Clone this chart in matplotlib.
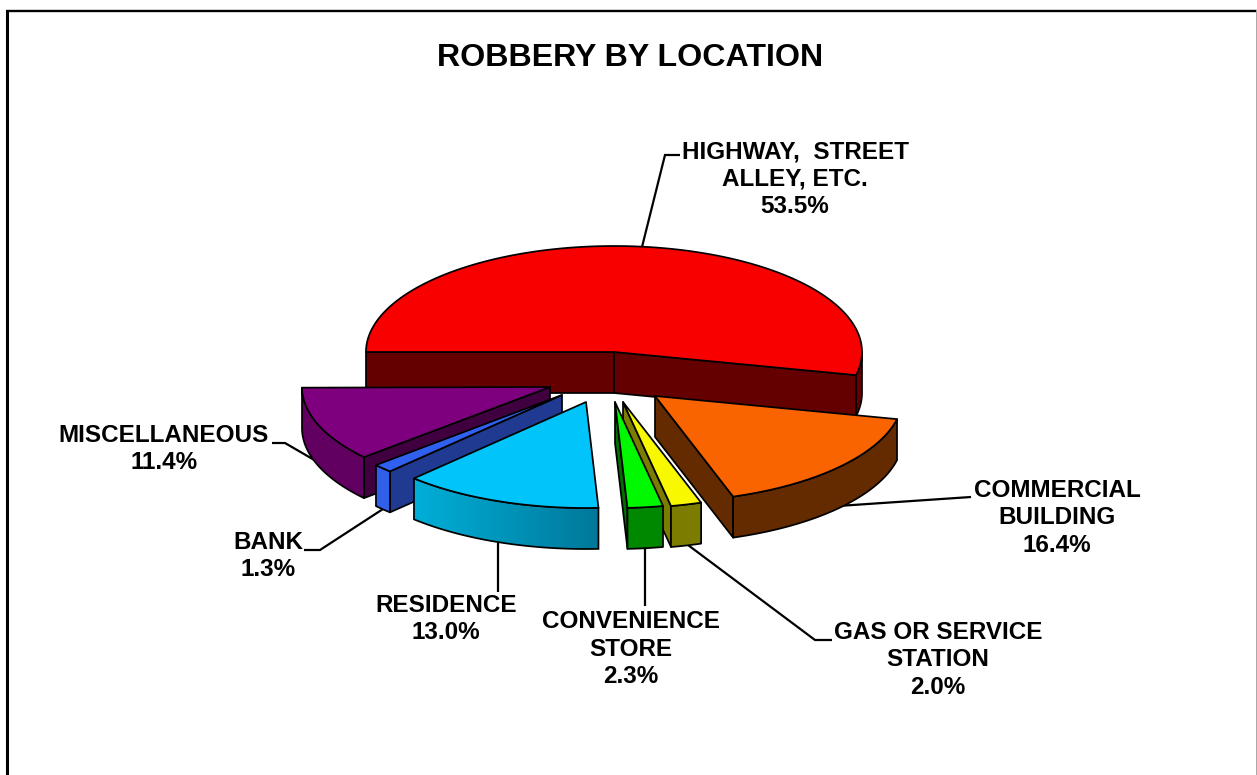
import numpy as np
import matplotlib
matplotlib.use("Agg")
import matplotlib.pyplot as plt
from matplotlib.patches import Polygon
from matplotlib.colors import LinearSegmentedColormap

# ---- data ----
categories = ["HIGHWAY,  STREET\nALLEY, ETC.", "COMMERCIAL\nBUILDING", "GAS OR SERVICE\nSTATION",
              "CONVENIENCE\nSTORE", "RESIDENCE", "BANK", "MISCELLANEOUS"]
values = [53.5, 16.4, 2.0, 2.3, 13.0, 1.3, 11.4]
title = "ROBBERY BY LOCATION"

# ---- style / layout ----
top_colors = ["#F80000", "#F96400", "#F8F800", "#00F800", "#00C4FA", "#3060F0", "#7F007F"]
wall_left = ["#660000", "#642A00", "#7C7C00", "#008800", "#00AFD8", "#3060E8", "#620062"]
wall_right = ["#660000", "#642A00", "#7C7C00", "#008800", "#00789A", "#3060E8", "#620062"]
cut_colors = ["#640000", "#642A00", "#7C7C00", "#006E00", "#007A96", "#1F3A90", "#400040"]
apex_x = [614, 655, 623, 615, 586, 562, 550]
apex_y = [352, 396, 402, 402, 402, 395, 387]
draw_order = [0, 1, 2, 3, 6, 5, 4]
RX, RY, DEPTH = 248, 106, 41
label_xy = [(795, 179), (1057, 518), (938, 660), (631, 649), (446, 619), (268, 556), (164, 449)]
leaders = [[(680, 155), (665, 155), (642, 247)],
           [(971, 497), (838, 506)],
           [(832, 640), (815, 640), (688, 545)],
           [(645, 549), (645, 606)],
           [(498, 543), (498, 592)],
           [(304, 550), (320, 550), (383, 509)],
           [(272, 443), (285, 443), (316, 461)]]

plt.rcParams["font.family"] = ["Liberation Sans", "DejaVu Sans"]
fig = plt.figure(figsize=(12.57, 7.75), dpi=100)
ax = fig.add_axes([0, 0, 1, 1])
ax.axis("off")

LW = 1.25
z = [2]


def next_z():
    z[0] += 1
    return z[0]


def pts(cx, cy, angles, drop=0):
    r = np.radians(angles)
    return np.column_stack([cx + RX * np.cos(r), cy - RY * np.sin(r) + drop])


def poly(xy, face, edge="black", lw=LW):
    p = Polygon(xy, closed=True, facecolor=face, edgecolor=edge, linewidth=lw,
                joinstyle="round", zorder=next_z())
    ax.add_patch(p)
    return p


starts = 180 - np.concatenate([[0], np.cumsum(values)[:-1]]) * 3.6
ends = starts - np.array(values) * 3.6

for i in draw_order:
    a, b = starts[i], ends[i]
    cx, cy = apex_x[i], apex_y[i]
    # visible cut faces
    if np.cos(np.radians(a)) < 0:
        p = pts(cx, cy, [a])[0]
        poly([(cx, cy), p, (p[0], p[1] + DEPTH), (cx, cy + DEPTH)], cut_colors[i])
    if np.cos(np.radians(b)) > 0:
        p = pts(cx, cy, [b])[0]
        poly([(cx, cy), p, (p[0], p[1] + DEPTH), (cx, cy + DEPTH)], cut_colors[i])
    # outer wall, front half only
    hi, lo = min(a, 0), max(b, -180)
    if hi > lo:
        th = np.linspace(hi, lo, 61)
        outline = np.vstack([pts(cx, cy, th), pts(cx, cy, th[::-1], DEPTH)])
        if wall_left[i] == wall_right[i]:
            poly(outline, wall_left[i])
        else:
            cmap = LinearSegmentedColormap.from_list("wall", [wall_left[i], wall_right[i]])
            x0, x1 = outline[:, 0].min(), outline[:, 0].max()
            y0, y1 = outline[:, 1].min(), outline[:, 1].max()
            clip = Polygon(outline, closed=True, transform=ax.transData)
            im = ax.imshow(np.linspace(0, 1, 256)[None, :], cmap=cmap, aspect="auto",
                           extent=(x0, x1, y1, y0), zorder=next_z(), interpolation="bilinear")
            im.set_clip_path(clip)
            ax.add_patch(Polygon(outline, closed=True, fill=False, edgecolor="black",
                                 linewidth=LW, zorder=next_z()))
    # top face
    arc = pts(cx, cy, np.linspace(a, b, 181))
    poly(np.vstack([[(cx, cy)], arc]), top_colors[i])

for line in leaders:
    xs, ys = zip(*line)
    ax.plot(xs, ys, color="black", lw=1.6, solid_capstyle="butt", solid_joinstyle="miter", zorder=1)

for name, val, (x, y) in zip(categories, values, label_xy):
    ax.text(x, y, f"{name}\n{val:.1f}%", ha="center", va="center", fontsize=17.5,
            fontweight="bold", linespacing=1.24, color="black", zorder=100)

ax.text(630, 58, title, ha="center", va="center", fontsize=23.1, fontweight="bold",
        color="black", zorder=100)

# frame
ax.plot([7, 7], [775, 10], color="black", lw=2.2, solid_capstyle="butt", zorder=100)
ax.plot([5.5, 1257], [11, 11], color="black", lw=1.7, solid_capstyle="butt", zorder=100)
ax.plot([1256.5, 1256.5], [11, 775], color="#a8a8a8", lw=1.4, zorder=100)

ax.set_xlim(0, 1257)
ax.set_ylim(775, 0)
fig.savefig("out.png", dpi=100)
